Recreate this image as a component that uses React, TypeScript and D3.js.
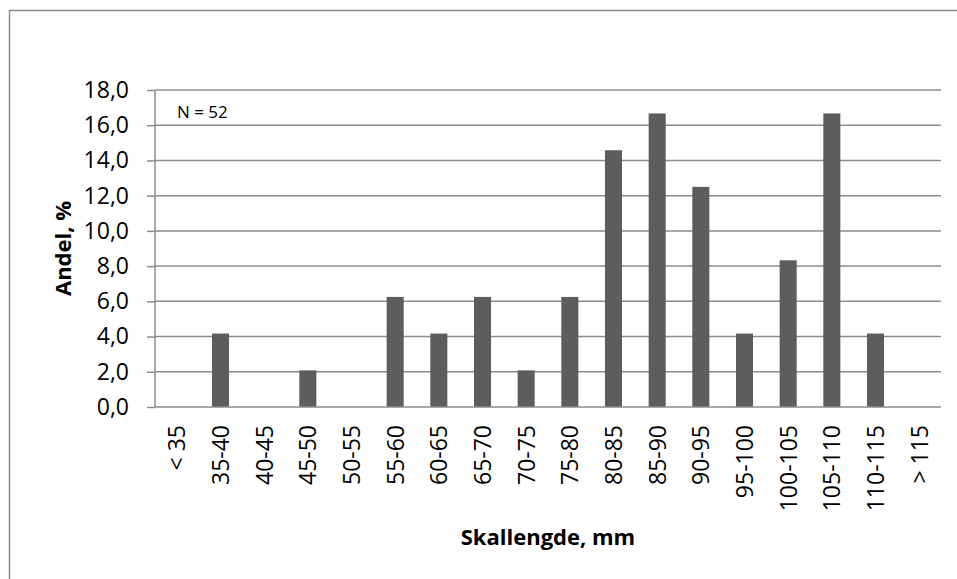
import React, { useEffect, useRef } from 'react';
import * as d3 from 'd3';

const categories = [
  '< 35', '35-40', '40-45', '45-50', '50-55', '55-60', '60-65', '65-70', '70-75',
  '75-80', '80-85', '85-90', '90-95', '95-100', '100-105', '105-110', '110-115', '> 115',
];
const values = [0, 4.17, 0, 2.08, 0, 6.25, 4.17, 6.25, 2.08, 6.25, 14.58, 16.67, 12.5, 4.17, 8.33, 16.67, 4.17, 0];
const yTicks = [0, 2, 4, 6, 8, 10, 12, 14, 16, 18];

const width = 957;
const height = 579;
const font = "'Open Sans', 'Liberation Sans', sans-serif";

const App: React.FC = () => {
  const svgRef = useRef<SVGSVGElement>(null);

  useEffect(() => {
    if (!svgRef.current) return;
    const svg = d3.select(svgRef.current);
    svg.selectAll('*').remove();

    // outer chart border (runs off the right/bottom edge)
    svg.append('rect')
      .attr('x', 9.5)
      .attr('y', 10.5)
      .attr('width', width + 20)
      .attr('height', height + 20)
      .attr('fill', 'white')
      .attr('stroke', '#8c8c8c')
      .attr('stroke-width', 1.5);

    const left = 155;
    const right = 941;
    const top = 90;
    const bottom = 407;

    const x = d3.scaleBand()
      .domain(categories)
      .range([left, right])
      .paddingInner(0.61)
      .paddingOuter(0.305);

    const y = d3.scaleLinear().domain([0, 18]).range([bottom, top]);

    // gridlines
    svg.append('g')
      .selectAll('line')
      .data(yTicks.filter(t => t > 0))
      .enter().append('line')
      .attr('x1', left)
      .attr('x2', right)
      .attr('y1', d => y(d))
      .attr('y2', d => y(d))
      .attr('stroke', '#8c8c8c')
      .attr('stroke-width', 1.5);

    // y axis
    svg.append('g')
      .attr('transform', `translate(${left},0)`)
      .call(d3.axisLeft(y).tickValues(yTicks).tickSize(8).tickPadding(18)
        .tickFormat(d => d3.format('.1f')(d as number).replace('.', ',')))
      .call(g => g.select('.domain').attr('stroke', '#8c8c8c').attr('stroke-width', 1.5).attr('d', `M0,${top}V${bottom}`))
      .call(g => g.selectAll('.tick line').attr('stroke', '#8c8c8c').attr('stroke-width', 1.5))
      .call(g => g.selectAll('.tick text')
        .attr('fill', '#000')
        .style('font-family', font)
        .style('font-size', '23px'));

    // bars
    svg.append('g')
      .selectAll('rect')
      .data(values)
      .enter().append('rect')
      .attr('x', (_, i) => x(categories[i]) || 0)
      .attr('y', d => y(d))
      .attr('width', x.bandwidth())
      .attr('height', d => y(0) - y(d))
      .attr('fill', '#5d5d5d');

    // x axis line
    svg.append('line')
      .attr('x1', left)
      .attr('x2', right)
      .attr('y1', y(0))
      .attr('y2', y(0))
      .attr('stroke', '#8c8c8c')
      .attr('stroke-width', 1.5);

    // rotated category labels
    svg.append('g')
      .selectAll('text')
      .data(categories)
      .enter().append('text')
      .attr('transform', d => `translate(${(x(d) || 0) + x.bandwidth() / 2 + 8.5},425) rotate(-90)`)
      .attr('text-anchor', 'end')
      .style('font-family', font)
      .style('font-size', '23px')
      .attr('fill', '#000')
      .text(d => d);

    svg.append('text')
      .attr('x', 177)
      .attr('y', 118)
      .style('font-family', font)
      .style('font-size', '17px')
      .text('N = 52');

    svg.append('text')
      .attr('x', (left + right) / 2)
      .attr('y', 545)
      .attr('text-anchor', 'middle')
      .style('font-family', font)
      .style('font-size', '22px')
      .style('font-weight', 'bold')
      .text('Skallengde, mm');

    svg.append('text')
      .attr('transform', `translate(71,${(top + bottom) / 2}) rotate(-90)`)
      .attr('text-anchor', 'middle')
      .style('font-family', font)
      .style('font-size', '22px')
      .style('font-weight', 'bold')
      .text('Andel, %');
  }, []);

  return (
    <div style={{ position: 'absolute', left: 0, top: 0 }}>
      <svg ref={svgRef} width={width} height={height} style={{ display: 'block' }} />
    </div>
  );
};

export default App;
